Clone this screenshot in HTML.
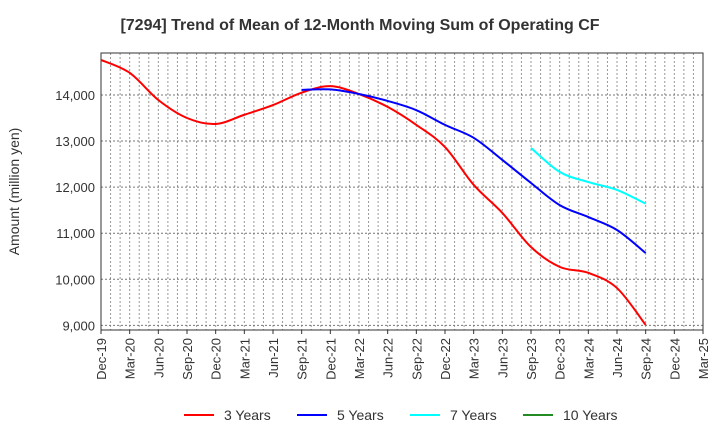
<!DOCTYPE html>
<html><head><meta charset="utf-8"><style>body{margin:0;background:#fff}svg{font-family:"Liberation Sans",sans-serif}</style></head>
<body>
<svg id="c" width="720" height="440" xmlns="http://www.w3.org/2000/svg"></svg>
<script>
const xLabels=["Dec-19","Mar-20","Jun-20","Sep-20","Dec-20","Mar-21","Jun-21","Sep-21","Dec-21","Mar-22","Jun-22","Sep-22","Dec-22","Mar-23","Jun-23","Sep-23","Dec-23","Mar-24","Jun-24","Sep-24","Dec-24","Mar-25"];
const yTicks=[9000,10000,11000,12000,13000,14000];
const s3=[14760,14480,13890,13500,13370,13570,13780,14050,14190,14020,13740,13350,12870,12050,11440,10700,10270,10140,9810,9010];
const s5=[14110,14120,14020,13870,13670,13350,13070,12590,12090,11610,11350,11070,10570];
const s5Start=7;
const s7=[12850,12330,12110,11940,11640];
const s7Start=15;
const s10=[];
const L=101,R=703,T=53,B=330,yMin=8900,yMax=14910;
const NS="http://www.w3.org/2000/svg",svg=document.getElementById('c');
const X=q=>L+(R-L)*q/(xLabels.length-1);
const Y=v=>B-(B-T)*(v-yMin)/(yMax-yMin);
function el(t,a,p){const e=document.createElementNS(NS,t);for(const k in a)e.setAttribute(k,a[k]);(p||svg).appendChild(e);return e;}
let g=el('g',{});
for(let m=1;m<(xLabels.length-1)*3;m++){const x=L+(R-L)*m/((xLabels.length-1)*3);el('line',{x1:x,x2:x,y1:T,y2:B,stroke:'#999','stroke-dasharray':'2,2','stroke-width':1},g);}
yTicks.forEach(v=>el('line',{x1:L,x2:R,y1:Y(v),y2:Y(v),stroke:'#777','stroke-dasharray':'2,2','stroke-width':1},g));
let fr=el('rect',{x:L,y:T,width:R-L,height:B-T,fill:'none',stroke:'#333','stroke-width':1});

yTicks.forEach(v=>{const t=el('text',{x:L-6,y:Y(v)+5,'text-anchor':'end','font-size':13,fill:'#333'});t.textContent=v.toLocaleString('en-US');
});
xLabels.forEach((s,i)=>{const x=X(i);el('line',{x1:x,x2:x,y1:B,y2:B+4,stroke:'#333'});const t=el('text',{x:0,y:0,'text-anchor':'end','font-size':13,fill:'#333',transform:`translate(${x+5},${B+8}) rotate(-90)`});t.textContent=s;
});
function path(vals,start,color,name){if(!vals.length)return;const p=vals.map((v,i)=>[X(start+i),Y(v)]);let d=`M${p[0][0]},${p[0][1]}`;
for(let i=0;i<p.length-1;i++){const p0=p[i-1]||p[i],p1=p[i],p2=p[i+1],p3=p[i+2]||p2;
d+=` C${p1[0]+(p2[0]-p0[0])/6},${p1[1]+(p2[1]-p0[1])/6} ${p2[0]-(p3[0]-p1[0])/6},${p2[1]-(p3[1]-p1[1])/6} ${p2[0]},${p2[1]}`;}
const e=el('path',{d,fill:'none',stroke:color,'stroke-width':2});}
path(s3,0,'#ff0000','line-3-years');path(s5,s5Start,'#0000ff','line-5-years');path(s7,s7Start,'#00ffff','line-7-years');path(s10,0,'#228b22','line-10-years');
const ttl=el('text',{x:360,y:30,'text-anchor':'middle','font-size':16,'font-weight':'bold',fill:'#333'});ttl.textContent='[7294]  Trend of Mean of 12-Month Moving Sum of Operating CF';

const yt=el('text',{x:0,y:0,'text-anchor':'middle','font-size':14,fill:'#333',transform:`translate(19,${(T+B)/2}) rotate(-90)`});yt.textContent='Amount (million yen)';

const leg=[['3 Years','#ff0000',184],['5 Years','#0000ff',297],['7 Years','#00ffff',410],['10 Years','#228b22',523]];
leg.forEach(([n,c,x])=>{const lg=el('g',{});
el('line',{x1:x,x2:x+30,y1:415,y2:415,stroke:c,'stroke-width':2},lg);const t=el('text',{x:x+40,y:420,'font-size':14,fill:'#333'},lg);t.textContent=n;});
</script>
</body></html>
